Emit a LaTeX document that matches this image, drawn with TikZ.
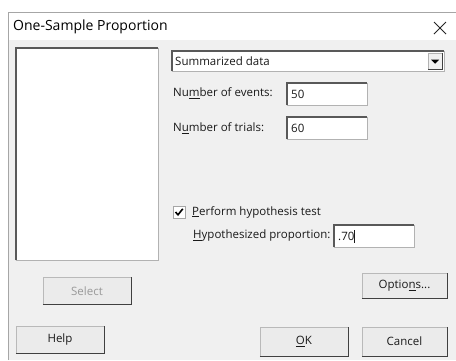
\documentclass[tikz,border=0pt]{standalone}
\usepackage{fontspec}
\setmainfont{Open Sans}
\begin{document}
\begin{tikzpicture}[x=1pt,y=-1pt,
  lbl/.style={anchor=west,inner sep=0pt,font=\fontsize{11.5}{13}\selectfont,text=black!90},
  btn/.style={draw=gray!55,fill=black!8,inner sep=0pt,font=\fontsize{11.5}{13}\selectfont,text=black!90},
  field/.style={draw=gray!60,fill=white,inner sep=0pt,anchor=north west,minimum width=80,minimum height=22},
  raised/.style={draw=black!75,line width=1.2pt},
  sunken/.style={draw=black!65,line width=1.2pt}]
\useasboundingbox (0,0) rectangle (456,360);
\fill[white] (0,0) rectangle (456,360);
% dialog body
\fill[black!6] (8,40) rectangle (456,360);
\fill[white] (8,12) rectangle (456,40);
\draw[gray!70,line width=0.8pt] (8,360) -- (8,12) -- (456,12);
\node[anchor=west,inner sep=0pt,font=\fontsize{14}{16}\selectfont] (title) at (13,27) {One-Sample Proportion};
% close cross
\coordinate (xc) at (440,28);
\draw[black!85,line width=0.9pt] ([shift={(-6,-6)}]xc) -- ([shift={(6,6)}]xc) ([shift={(-6,6)}]xc) -- ([shift={(6,-6)}]xc);
% list box
\node[draw=gray!60,fill=white,minimum width=142,minimum height=212,inner sep=0pt,anchor=north west] (list) at (16,48) {};
\draw[sunken] (list.south west) -- (list.north west) -- (list.north east);
% dropdown
\node[draw=gray!60,fill=white,minimum width=272,minimum height=20,inner sep=0pt,anchor=north west] (drop) at (172,51) {};
\draw[sunken] (drop.south west) -- (drop.north west) -- (drop.north east);
\node[lbl] (droptxt) at (175,61) {Summarized data};
\node[draw=gray!60,fill=black!6,minimum width=14,minimum height=16,inner sep=0pt,anchor=east] (dropbtn) at ([xshift=-2pt]drop.east) {};
\draw[black!75,line width=0.8pt] (dropbtn.south west) -- (dropbtn.south east) -- (dropbtn.north east);
\fill[black] ([shift={(-4,-1.5)}]dropbtn.center) -- ([shift={(4,-1.5)}]dropbtn.center) -- ([shift={(0,2.5)}]dropbtn.center) -- cycle;
% number of events
\node[lbl] (evlbl) at (173,93) {Nu\underline{m}ber of events:};
\node[field] (ev) at (287,83) {};
\draw[sunken] (ev.south west) -- (ev.north west) -- (ev.north east);
\node[lbl] (evtxt) at ([xshift=4pt]ev.west) {50};
% number of trials
\node[lbl] (trlbl) at (173,128) {N\underline{u}mber of trials:};
\node[field] (tr) at (287,117) {};
\draw[sunken] (tr.south west) -- (tr.north west) -- (tr.north east);
\node[lbl] (trtxt) at ([xshift=4pt]tr.west) {60};
% checkbox
\node[draw=gray!70,fill=white,minimum size=12,inner sep=0pt] (chk) at (179,212) {};
\draw[black,line width=1.6pt] ([shift={(-3.5,0)}]chk.center) -- ([shift={(-1,2.8)}]chk.center) -- ([shift={(3.8,-3.2)}]chk.center);
\node[lbl] (chklbl) at (192,212) {\underline{P}erform hypothesis test};
% hypothesized proportion
\node[lbl] (hplbl) at (193,236) {\underline{H}ypothesized proportion:};
\node[field] (hp) at (334,225) {};
\draw[sunken] (hp.south west) -- (hp.north west) -- (hp.north east);
\node[lbl] (hptxt) at ([xshift=4pt]hp.west) {.70\rule[-2.5pt]{0.7pt}{13pt}};
% buttons
\node[btn,minimum width=85,minimum height=25] (opt) at (404.5,285.5) {Optio\underline{n}s...};
\draw[raised] (opt.south west) -- (opt.south east) -- (opt.north east);
\node[btn,minimum width=88,minimum height=27,text=black!40] (sel) at (87,291) {Select};
\draw[raised] (sel.south west) -- (sel.south east) -- (sel.north east);
\node[btn,minimum width=88,minimum height=27] (help) at (60,340) {Help};
\draw[raised] (help.south west) -- (help.south east) -- (help.north east);
\node[btn,minimum width=88,minimum height=29] (ok) at (304,341.5) {\underline{O}K};
\draw[raised] (ok.south west) -- (ok.south east) -- (ok.north east);
\node[btn,minimum width=85,minimum height=29] (cancel) at (404.5,341.5) {Cancel};
\draw[raised] (cancel.south west) -- (cancel.south east) -- (cancel.north east);
\end{tikzpicture}
\end{document}
